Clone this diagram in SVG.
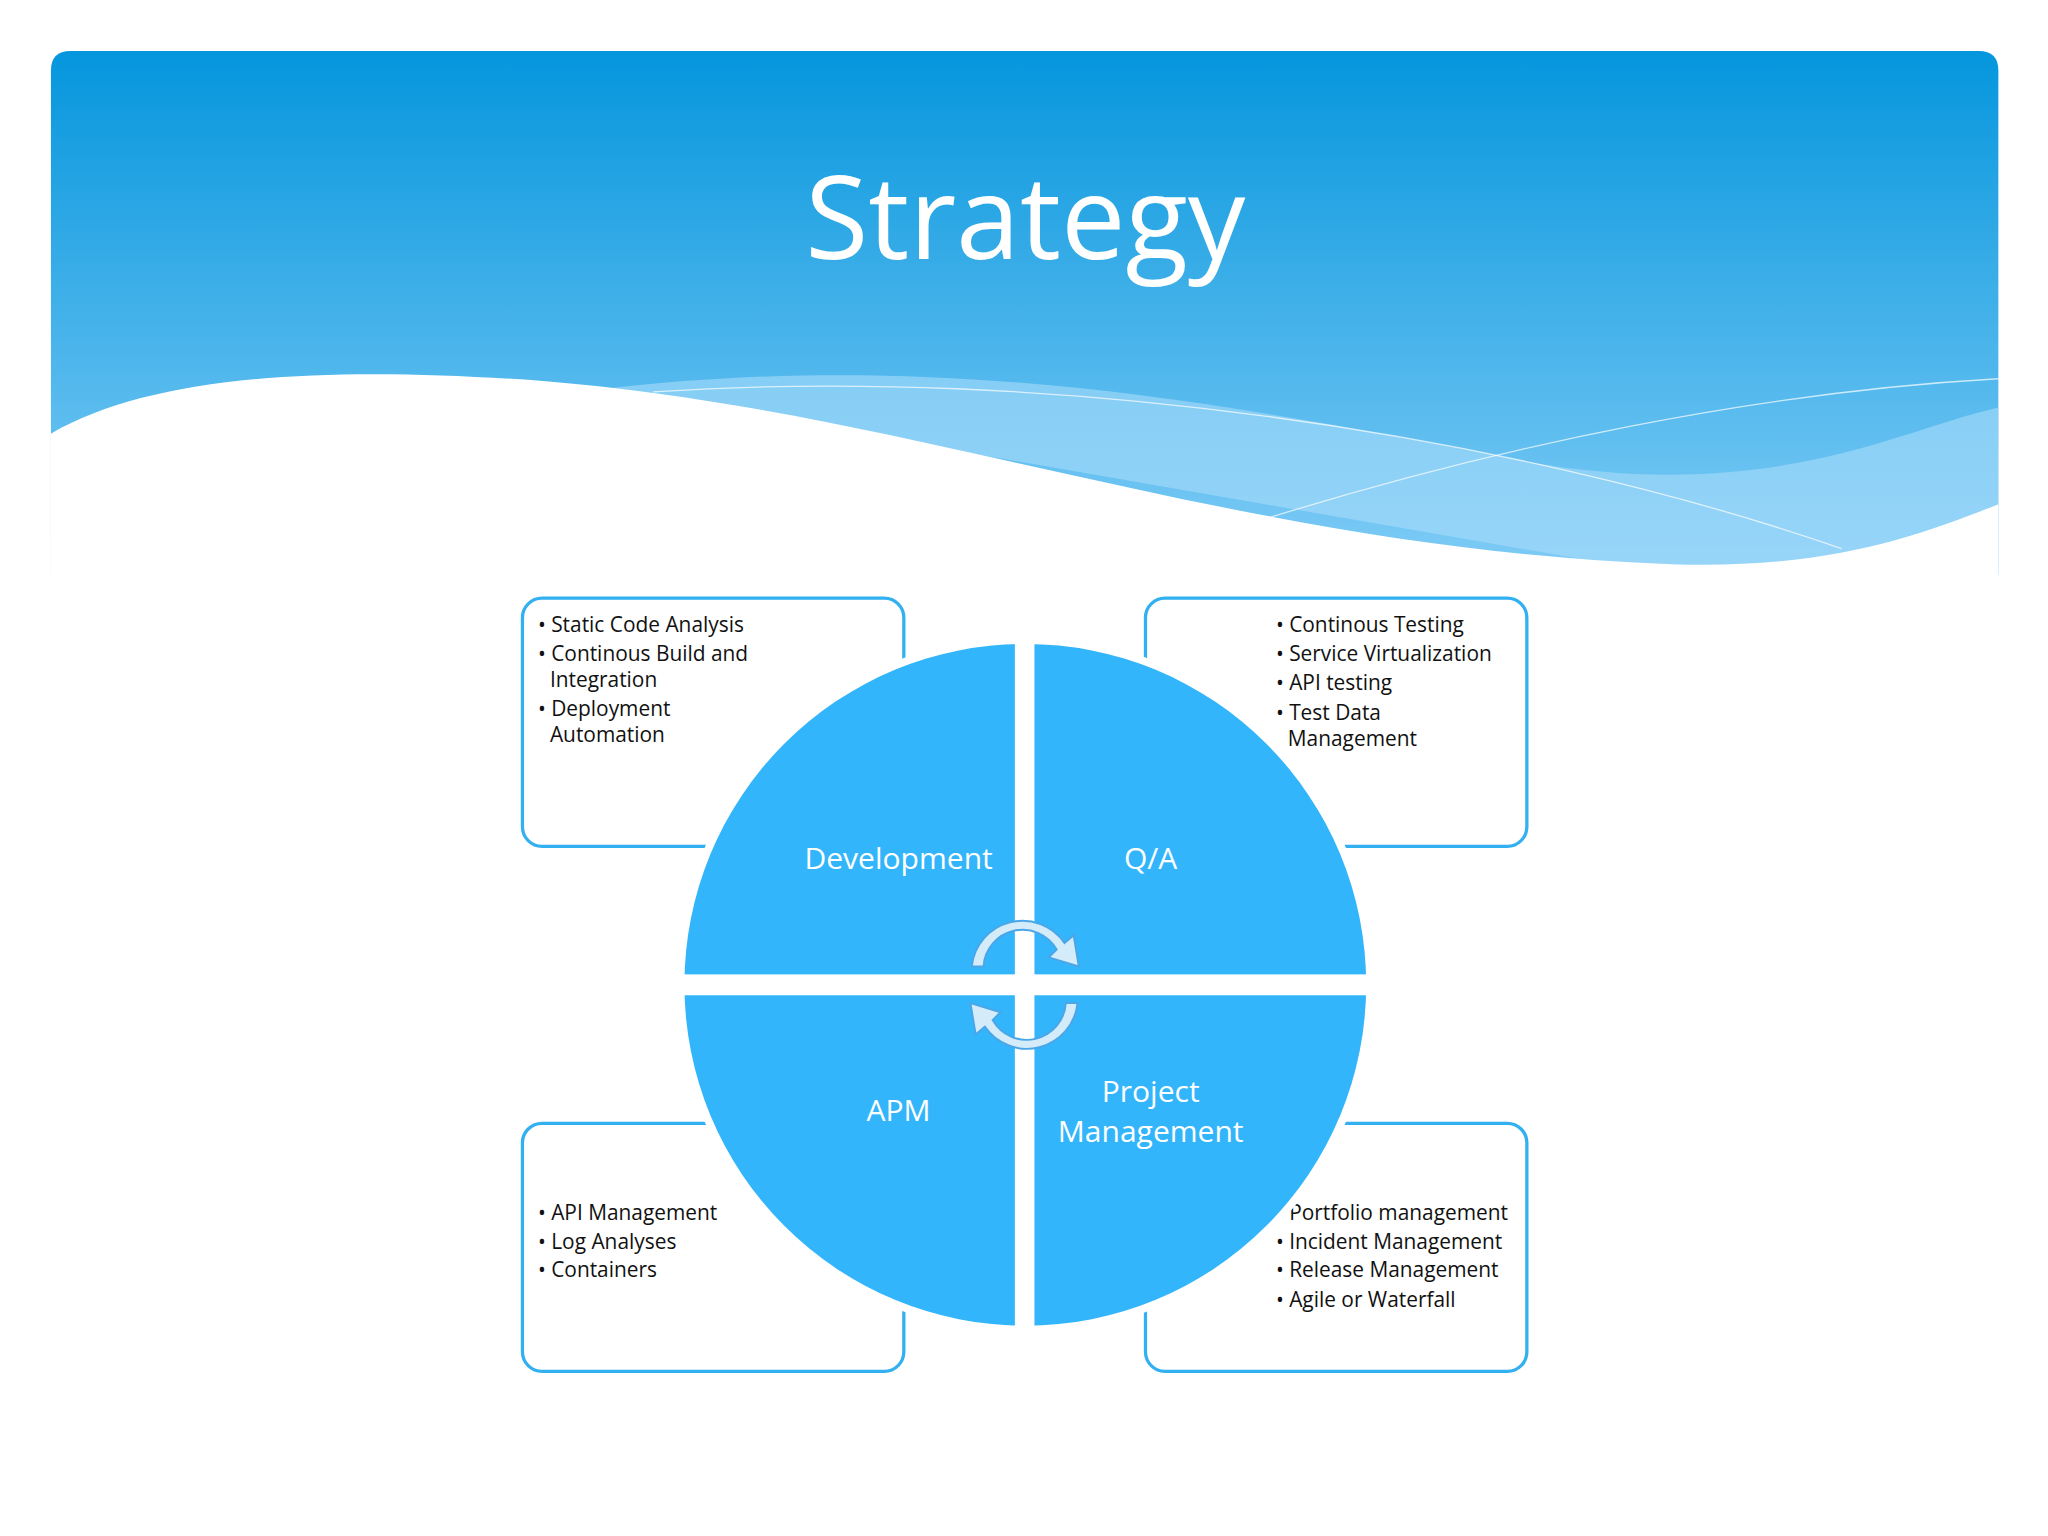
<svg xmlns="http://www.w3.org/2000/svg" width="2048" height="1536" viewBox="0 0 2048 1536">
<defs>
<linearGradient id="hg" x1="0" y1="0" x2="0" y2="1"><stop offset="0" stop-color="#0596dd"/><stop offset="1" stop-color="#80ccf6"/></linearGradient>
<style>
.box{fill:#fff;stroke:#33b0f0;stroke-width:2.5}
.q{fill:#33b5fb}
.lab{font-family:"Open Sans",sans-serif;font-size:23px;fill:#fff;text-anchor:middle}
.t{font-family:"Open Sans",sans-serif;font-size:16px;fill:#111}
</style>
</defs>
<rect width="2048" height="1536" fill="#fff"/>
<g transform="scale(1.30612)">
<g id="header">
<path d="M39,54 Q39,39 54,39 L1515,39 Q1530,39 1530,54 L1530,440 L39,440 Z" fill="url(#hg)"/>
<path d="M460,298 C700,270 900,300 1150,350 C1350,390 1450,330 1530,312 L1530,440 L1280,440 Z" fill="#a8dcfa" opacity="0.6"/>
<path d="M39,332 C120,285 260,280 420,292 C700,315 950,420 1280,432 C1400,436 1470,410 1530,386 L1530,1176 L39,1176 Z" fill="#fff"/>
<path d="M500,300 C800,280 1150,330 1410,420" fill="none" stroke="#fff" stroke-width="1" opacity="0.7"/>
<path d="M960,400 C1150,340 1350,300 1530,290" fill="none" stroke="#fff" stroke-width="1" opacity="0.7"/>
<text x="785" y="198" font-family="Open Sans, sans-serif" font-size="88" fill="#fff" text-anchor="middle">Strategy</text>
</g>
<g id="box-dev"><rect class="box" x="400" y="458" width="292" height="190" rx="15"/>
<text class="t"><tspan x="412" y="484">•</tspan><tspan x="422">Static Code Analysis</tspan><tspan x="412" y="506">•</tspan><tspan x="422">Continous Build and</tspan><tspan x="421" y="526">Integration</tspan><tspan x="412" y="548">•</tspan><tspan x="422">Deployment</tspan><tspan x="421" y="568">Automation</tspan></text></g>
<g id="box-qa"><rect class="box" x="877" y="458" width="292" height="190" rx="15"/>
<text class="t"><tspan x="977" y="484">•</tspan><tspan x="987">Continous Testing</tspan><tspan x="977" y="506">•</tspan><tspan x="987">Service Virtualization</tspan><tspan x="977" y="528">•</tspan><tspan x="987">API testing</tspan><tspan x="977" y="551">•</tspan><tspan x="987">Test Data</tspan><tspan x="986" y="571">Management</tspan></text></g>
<g id="box-apm"><rect class="box" x="400" y="860" width="292" height="190" rx="15"/>
<text class="t"><tspan x="412" y="934">•</tspan><tspan x="422">API Management</tspan><tspan x="412" y="956">•</tspan><tspan x="422">Log Analyses</tspan><tspan x="412" y="978">•</tspan><tspan x="422">Containers</tspan></text></g>
<g id="box-pm"><rect class="box" x="877" y="860" width="292" height="190" rx="15"/>
<text class="t"><tspan x="987" y="934">Portfolio management</tspan><tspan x="977" y="956">•</tspan><tspan x="987">Incident Management</tspan><tspan x="977" y="978">•</tspan><tspan x="987">Release Management</tspan><tspan x="977" y="1001">•</tspan><tspan x="987">Agile or Waterfall</tspan></text></g>
<g id="wheel">
<circle cx="785" cy="754" r="267" fill="#fff"/>
<circle class="q" cx="785" cy="754" r="261"/>
<rect x="777" y="480" width="15" height="550" fill="#fff"/>
<rect x="510" y="746" width="550" height="16" fill="#fff"/>
</g>
<g id="n-dev"><text class="lab" x="688" y="665">Development</text></g>
<g id="n-qa"><text class="lab" x="881" y="665">Q/A</text></g>
<g id="n-apm"><text class="lab" x="688" y="858">APM</text></g>
<g id="n-pm"><text class="lab"><tspan x="881" y="844">Project</tspan><tspan x="881" y="874">Management</tspan></text></g>
<g id="connectors" fill="#d4ebfa" stroke="#4aa6e6" stroke-width="1.5">
<path d="M744,740 A39,39 0 0 1 815,722 L822,716 L826,740 L803,733 L809,727 A30,30 0 0 0 753,740 Z"/>
<path d="M825,768 A39,39 0 0 1 754,786 L747,792 L743,768 L766,775 L760,781 A30,30 0 0 0 816,768 Z"/>
</g>
</g>
</svg>
